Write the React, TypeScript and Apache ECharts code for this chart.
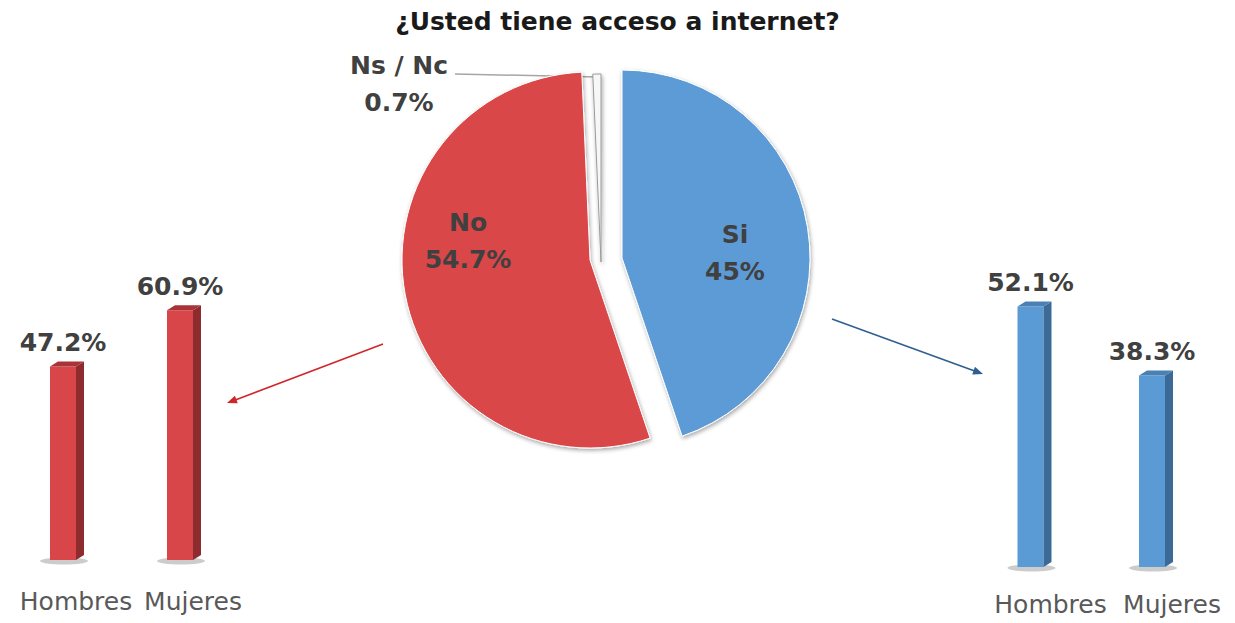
import React, { useEffect, useRef } from 'react';
import * as echarts from 'echarts';

const chartTitle = '¿Usted tiene acceso a internet?';
const pieCategories = ['Si', 'No', 'Ns / Nc'];
const pieValues = [45, 54.7, 0.7];
const genderCategories = ['Hombres', 'Mujeres'];
const noByGender = [47.2, 60.9];
const siByGender = [52.1, 38.3];

const FONT = 'DejaVu Sans';
const LABEL_COLOR = '#404040';

function pieSeries(visibleIndex: number, center: number[], color: string, labelPos: number[], border: string) {
  return {
    type: 'pie',
    silent: true,
    radius: 188,
    center,
    startAngle: 90,
    clockwise: true,
    avoidLabelOverlap: false,
    emphasis: { disabled: true },
    label: {
      show: true,
      position: 'inside',
      formatter: (p: any) => `${p.name}\n${p.value}%`,
      fontFamily: FONT,
      fontSize: 25,
      fontWeight: 'bold',
      color: LABEL_COLOR,
      lineHeight: 37,
      align: 'center',
    },
    labelLine: { show: false },
    labelLayout: { x: labelPos[0], y: labelPos[1], align: 'center', verticalAlign: 'middle' },
    data: pieCategories.map((name, i) =>
      i === visibleIndex
        ? {
            name,
            value: pieValues[i],
            itemStyle: {
              color,
              borderColor: border,
              borderWidth: 1,
              shadowBlur: 4,
              shadowColor: 'rgba(0,0,0,0.35)',
              shadowOffsetX: 1,
              shadowOffsetY: 2,
            },
          }
        : {
            name,
            value: pieValues[i],
            itemStyle: { color: 'rgba(0,0,0,0)', borderWidth: 0, shadowBlur: 0 },
            label: { show: false },
          }
    ),
  };
}

function bar3dSeries(idx: number, values: number[], colors: { front: string; side: string; top: string }) {
  return {
    type: 'custom',
    xAxisIndex: idx,
    yAxisIndex: idx,
    clip: false,
    silent: true,
    data: values.map((v, i) => [i, v]),
    renderItem: (_params: any, api: any) => {
      const xi = api.value(0);
      const v = api.value(1);
      const top = api.coord([xi, v]);
      const base = api.coord([xi, 0]);
      const x = top[0];
      const yT = top[1];
      const yB = base[1];
      const hw = 13;
      const dx = 8;
      const dy = 5;
      return {
        type: 'group',
        children: [
          { type: 'ellipse', shape: { cx: x + 1, cy: yB + 1, rx: 24, ry: 3.5 }, style: { fill: 'rgba(0,0,0,0.2)' } },
          { type: 'rect', shape: { x: x - hw, y: yT, width: 2 * hw, height: yB - yT }, style: { fill: colors.front } },
          {
            type: 'polygon',
            shape: { points: [[x + hw, yT], [x + hw + dx, yT - dy], [x + hw + dx, yB - dy], [x + hw, yB]] },
            style: { fill: colors.side },
          },
          {
            type: 'polygon',
            shape: { points: [[x - hw, yT], [x - hw + dx, yT - dy], [x + hw + dx, yT - dy], [x + hw, yT]] },
            style: { fill: colors.top },
          },
          {
            type: 'text',
            style: {
              text: `${v}%`,
              x,
              y: yT - 24,
              align: 'center',
              verticalAlign: 'middle',
              fill: LABEL_COLOR,
              fontSize: 25,
              fontWeight: 'bold',
              fontFamily: FONT,
            },
          },
        ],
      };
    },
  };
}

function xAxisFor(gridIndex: number, margin: number, shift: number) {
  return {
    gridIndex,
    type: 'category',
    data: genderCategories,
    axisLine: { show: false },
    axisTick: { show: false },
    splitLine: { show: false },
    axisLabel: {
      interval: 0,
      fontFamily: FONT,
      fontSize: 25,
      color: '#595959',
      margin,
      padding: [0, 0, 0, shift * 2],
    },
  };
}

export default function App() {
  const ref = useRef<HTMLDivElement>(null);
  useEffect(() => {
    if (!ref.current) return;
    const chart = echarts.init(ref.current, undefined, { renderer: 'svg' });
    const red = '#D9464A';
    const blue = '#5B9BD5';
    chart.setOption({
      animation: false,
      backgroundColor: '#ffffff',
      title: {
        text: chartTitle,
        left: 'center',
        top: 4,
        textStyle: { fontFamily: FONT, fontSize: 25, fontWeight: 'bold', color: '#1a1a1a' },
      },
      grid: [
        { left: 4.5, width: 234, top: 150, height: 410 },
        { left: 969.75, width: 243, top: 67, height: 500 },
      ],
      xAxis: [xAxisFor(0, 29, 13), xAxisFor(1, 25, 20)],
      yAxis: [
        { gridIndex: 0, type: 'value', min: 0, max: 100, show: false },
        { gridIndex: 1, type: 'value', min: 0, max: 100, show: false },
      ],
      series: [
        pieSeries(1, [590, 260], red, [468, 241], '#ffffff'),
        pieSeries(2, [601, 262], '#F7F7F7', [399, 84], '#9A9A9A'),
        pieSeries(0, [622, 258], blue, [735, 253], '#ffffff'),
        bar3dSeries(0, noByGender, { front: red, side: '#8E2B2F', top: '#A93438' }),
        bar3dSeries(1, siByGender, { front: blue, side: '#3C6A96', top: '#4B80B3' }),
      ],
      graphic: [
        { type: 'polyline', shape: { points: [[455, 74], [597, 77], [599, 86]] }, style: { stroke: '#A6A6A6', lineWidth: 1.5, fill: null } },
        { type: 'line', shape: { x1: 383, y1: 344, x2: 234, y2: 400.5 }, style: { stroke: '#D0262B', lineWidth: 1.6 } },
        { type: 'polygon', shape: { points: [[227, 403], [237.8, 403.2], [234.9, 395.7]] }, style: { fill: '#D0262B' } },
        { type: 'line', shape: { x1: 832, y1: 319, x2: 976, y2: 371.5 }, style: { stroke: '#2F5F8F', lineWidth: 1.6 } },
        { type: 'polygon', shape: { points: [[983, 374], [972.2, 374.4], [975.0, 366.8]] }, style: { fill: '#2F5F8F' } },
      ],
    });
    return () => chart.dispose();
  }, []);
  return <div ref={ref} style={{ position: 'absolute', left: 0, top: 0, width: 1235, height: 623 }} />;
}
